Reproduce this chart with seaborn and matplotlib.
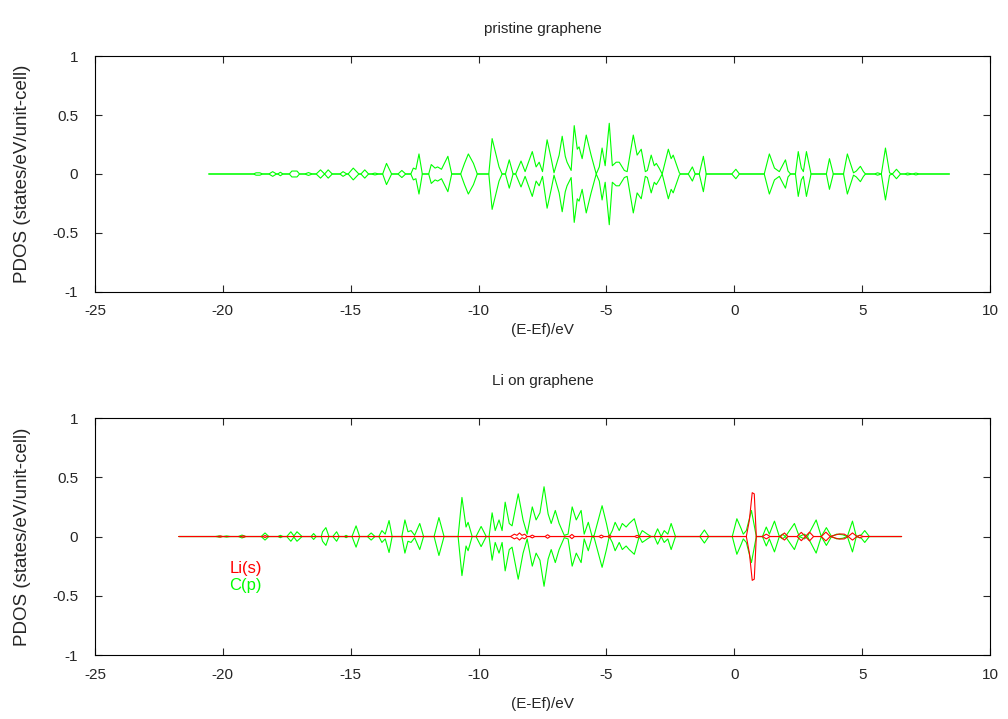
import matplotlib
matplotlib.use("Agg")
import matplotlib.pyplot as plt
import numpy as np
import pandas as pd
import seaborn as sns

# energy (eV, relative to Ef) and PDOS of the upper half; the curves are drawn mirrored
e_pristine = [
    -20.55, -18.8, -18.7, -18.55, -18.45, -18.2, -18.05, -17.9, -17.85, -17.75, -17.65,
    -17.4, -17.3, -17.1, -17.0, -16.8, -16.65, -16.5, -16.35, -16.18, -16.02, -15.88, -15.72,
    -15.42, -15.3, -15.15, -15.1, -14.9, -14.68, -14.6, -14.45, -14.3, -14.2, -14.05, -13.9,
    -13.75, -13.6, -13.4, -13.15, -13.0, -12.85, -12.65, -12.55, -12.45, -12.33, -12.2,
    -11.95, -11.85, -11.7, -11.6, -11.45, -11.2, -11.05, -10.7, -10.55, -10.4, -10.2, -10.05,
    -9.6, -9.47, -9.28, -9.2, -9.08, -8.95, -8.8, -8.65, -8.55, -8.34, -8.18, -7.9, -7.75,
    -7.63, -7.5, -7.32, -7.16, -7.05, -6.85, -6.73, -6.61, -6.54, -6.38, -6.26, -6.14,
    -6.07, -5.95, -5.79, -5.6, -5.4, -5.28, -5.17, -5.05, -4.89, -4.77, -4.62, -4.5, -4.3,
    -4.19, -3.95, -3.8, -3.64, -3.48, -3.4, -3.25, -3.13, -3.05, -2.94, -2.82, -2.58, -2.47,
    -2.39, -2.15, -2.1, -1.8, -1.64, -1.53, -1.37, -1.21, -1.1, -0.1, 0.06, 0.2,
    1.17, 1.37, 1.57, 1.76, 2.0, 2.1, 2.2, 2.39, 2.5, 2.62, 2.7, 2.82, 3.0,
    3.6, 3.72, 3.87, 4.27, 4.42, 4.66, 4.77, 4.93, 5.05, 5.13, 5.48, 5.6, 5.75, 5.91, 6.07,
    6.18, 6.34, 6.5, 6.65, 6.77, 6.97, 7.1, 7.24, 8.41,
]
pdos_pristine = [
    0, 0, 0.01, 0.01, 0, 0, 0.02, 0, 0, 0.015, 0,
    0, 0.025, 0.025, 0, 0, 0.012, 0, 0, 0.035, 0, 0.035, 0,
    0, 0.02, 0, 0, 0.05, 0, 0, 0.035, 0, 0, 0.008, 0,
    0, 0.09, 0, 0, 0.03, 0, 0, 0.05, 0.04, 0.17, 0,
    0, 0.08, 0.05, 0.06, 0.04, 0.15, 0, 0, 0.09, 0.17, 0.09, 0,
    0, 0.30, 0.13, 0.06, 0, 0, 0.12, 0, 0, 0.11, 0.02, 0.19, 0.06,
    0.10, 0.02, 0.29, 0.13, 0.01, 0.16, 0.32, 0.15, 0.10, 0.03, 0.41, 0.21,
    0.23, 0.13, 0.33, 0.16, 0, 0.06, 0.22, 0.07, 0.43, 0.07, 0.10, 0.10, 0.03,
    0.02, 0.33, 0.16, 0.21, 0.02, 0.03, 0.16, 0.07, 0.09, 0.05, 0, 0.21, 0.13,
    0.16, 0.01, 0, 0, 0.06, 0, 0, 0.15, 0, 0, 0.04, 0,
    0, 0.17, 0.05, 0.02, 0.12, 0.025, 0, 0, 0.19, 0.05, 0.02, 0.19, 0,
    0, 0.13, 0, 0, 0.17, 0.01, 0.025, 0.065, 0.02, 0, 0, 0.01, 0, 0.22, 0.01,
    0, 0.04, 0, 0, 0.008, 0, 0.008, 0, 0,
]

e_li_cp = [
    -21.72, -20.3, -20.15, -20.0, -19.85, -19.7, -19.4, -19.25, -19.1, -18.5, -18.35, -18.2,
    -17.85, -17.75, -17.65, -17.5, -17.34, -17.22, -17.1, -16.9, -16.55, -16.45, -16.35,
    -16.15, -16.1, -15.97, -15.85, -15.7, -15.55, -15.45, -15.25, -15.18, -15.1,
    -14.95, -14.79, -14.65, -14.35, -14.2, -14.05, -13.9, -13.78, -13.65, -13.5, -13.38,
    -13.0, -12.88, -12.76, -12.64, -12.5, -12.3, -12.15, -11.74, -11.55, -11.35,
    -10.8, -10.65, -10.49, -10.41, -10.25, -10.1, -9.9, -9.7,
    -9.59, -9.47, -9.35, -9.2, -9.08, -8.96, -8.8, -8.69, -8.45, -8.26, -8.1, -7.9,
    -7.75, -7.6, -7.44, -7.28, -7.16, -7.0, -6.85, -6.65, -6.5, -6.34, -6.18, -5.99, -5.87,
    -5.71, -5.56, -5.48, -5.17, -5.0, -4.89, -4.77, -4.66, -4.5, -4.38, -4.23, -4.11, -3.91,
    -3.72, -3.6, -3.4, -3.25, -3.13, -3.0, -2.86, -2.74, -2.6, -2.47, -2.3,
    -1.35, -1.17, -1.0, -0.08, 0.1, 0.27, 0.35, 0.47, 0.67, 0.86,
    1.1, 1.25, 1.37, 1.57, 1.76, 1.88, 2.0, 2.35, 2.54, 2.74, 2.86, 3.2, 3.4, 3.6, 3.8,
    4.0, 4.23, 4.42, 4.62, 4.77, 4.97, 5.1, 5.28, 6.54,
]
pdos_cp = [
    0, 0, 0.005, 0, 0.005, 0, 0, 0.012, 0, 0, 0.03, 0,
    0, 0.01, 0, 0, 0.04, 0.005, 0.04, 0, 0, 0.025, 0,
    0, 0.04, 0.075, 0, 0, 0.04, 0, 0, 0.01, 0,
    0, 0.09, 0, 0, 0.03, 0, 0, 0.05, 0.02, 0.135, 0,
    0, 0.14, 0.04, 0.05, 0.01, 0.11, 0, 0, 0.16, 0,
    0, 0.33, 0.08, 0.12, 0, 0, 0.085, 0,
    0, 0.20, 0.05, 0.14, 0.05, 0.29, 0.11, 0.09, 0.36, 0.14, 0.02, 0.25,
    0.14, 0.20, 0.42, 0.19, 0.11, 0.22, 0.11, 0.01, 0.02, 0.25, 0.14, 0.22, 0.02,
    0.12, 0, 0.01, 0.26, 0.11, 0, 0.05, 0.12, 0.05, 0.11, 0.08, 0.11, 0.15,
    0, 0.05, 0.02, 0, 0, 0.065, 0, 0.05, 0.02, 0.11, 0,
    0, 0.055, 0, 0, 0.15, 0.065, 0.02, 0.05, 0.22, 0,
    0, 0.08, 0.02, 0.13, 0, 0.02, 0, 0.11, 0, 0.02, 0, 0.14, 0, 0.075, 0,
    0.02, 0.015, 0, 0.13, 0, 0.015, 0.05, 0, 0,
]

e_li_s = [
    -21.72, -20.2, -20.1, -20.0, -19.3, -19.2, -19.1, -18.45, -18.35, -18.25,
    -8.75, -8.6, -8.5, -8.4, -8.3, -8.2, -8.1, -8.0, -7.9, -7.8, -7.4, -7.3, -7.2,
    -6.45, -6.35, -6.25, -5.3, -5.2, -5.1, -4.95, -4.88, -4.8, -3.9, -3.8, -3.7,
    0.47, 0.59, 0.7, 0.78, 0.86, 1.1, 1.25, 1.4, 1.8, 1.96, 2.1, 2.45, 2.62, 2.78, 2.94,
    3.1, 3.4, 3.58, 3.75, 3.9, 4.11, 4.3, 4.45, 4.62, 4.8, 4.9, 5.05, 6.54,
]
pdos_li_s = [
    0, 0, 0.005, 0, 0, 0.006, 0, 0, 0.008, 0,
    0, 0.02, 0.01, 0.03, 0.01, 0.02, 0, 0, 0.012, 0, 0, 0.015, 0,
    0, 0.018, 0, 0, 0.012, 0, 0, 0.01, 0, 0, 0.01, 0,
    0, 0.14, 0.37, 0.36, 0, 0, 0.02, 0, 0, 0.03, 0, 0, 0.035, 0, 0.037,
    0, 0, 0.037, 0, 0.01, 0.022, 0.02, 0, 0.03, 0, 0.01, 0, 0,
]

RED = "#ff0000"
GREEN = "#00ff00"


def mirrored(energies, values):
    up = pd.DataFrame({"E": energies, "pdos": values})
    down = up.assign(pdos=-up["pdos"])
    return up, down


def draw(ax, energies, values, color, label=None, zorder=2):
    up, down = mirrored(energies, values)
    sns.lineplot(data=up, x="E", y="pdos", ax=ax, color=color, lw=0.8,
                 sort=False, estimator=None, label=label, zorder=zorder)
    sns.lineplot(data=down, x="E", y="pdos", ax=ax, color=color, lw=0.8,
                 sort=False, estimator=None, zorder=zorder)


def style_axes(ax, title, title_pad, xlabel_pad):
    ax.set_xlim(-25, 10)
    ax.set_ylim(-1, 1)
    ax.set_xticks(np.arange(-25, 11, 5))
    ax.set_yticks([-1, -0.5, 0, 0.5, 1])
    ax.set_yticklabels(["-1", "-0.5", "0", "0.5", "1"])
    ax.set_xticklabels([str(v) for v in range(-25, 11, 5)])
    ax.tick_params(direction="in", top=True, right=True, length=5, width=0.8, labelsize=11)
    ax.tick_params(axis="x", pad=9)
    ax.tick_params(axis="y", pad=12)
    for s in ax.spines.values():
        s.set_linewidth(0.8)
        s.set_color("black")
    ax.set_title(title, fontsize=11, pad=title_pad)
    ax.set_xlabel("(E-Ef)/eV", fontsize=11, labelpad=xlabel_pad)
    ax.set_ylabel("PDOS (states/eV/unit-cell)", fontsize=13.5, labelpad=15)


sns.set_theme(style="ticks")
plt.rcParams["font.family"] = ["Liberation Sans", "DejaVu Sans"]

fig = plt.figure(figsize=(10.08, 7.19), dpi=100)
ax1 = fig.add_axes([0.0942, 0.5939, 0.888, 0.3282])
ax2 = fig.add_axes([0.0942, 0.0890, 0.888, 0.3296])

draw(ax1, e_pristine, pdos_pristine, GREEN)
style_axes(ax1, "pristine graphene", 16.5, 3.5)

draw(ax2, e_li_cp, pdos_cp, GREEN, label="C(p)", zorder=2)
draw(ax2, e_li_s, pdos_li_s, RED, label="Li(s)", zorder=3)
style_axes(ax2, "Li on graphene", 23.5, 11)

h, l = ax2.get_legend_handles_labels()
order = [l.index("Li(s)"), l.index("C(p)")]
ax2.legend([h[i] for i in order], [l[i] for i in order], loc="upper left",
           bbox_to_anchor=(0.141, 0.433), frameon=False, handlelength=0,
           handletextpad=0, labelcolor="linecolor", fontsize=12,
           labelspacing=0.12, borderpad=0)
for hd in ax2.get_legend().legend_handles:
    hd.set_visible(False)

fig.savefig("out.png", dpi=100)
